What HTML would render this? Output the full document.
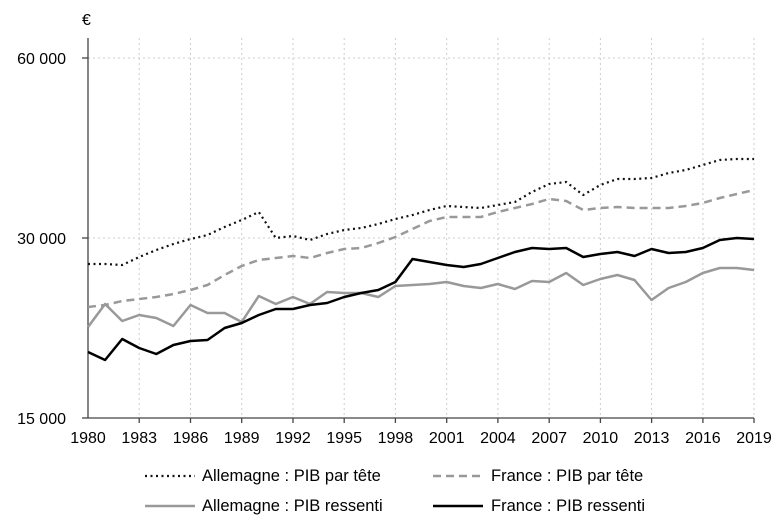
<!DOCTYPE html>
<html><head><meta charset="utf-8"><style>body{margin:0;background:#fff}svg{display:block}text{font-family:"Liberation Sans",Arial,sans-serif;fill:#000}</style></head><body>
<svg width="780" height="521" viewBox="0 0 780 521" xmlns="http://www.w3.org/2000/svg">
<g stroke="#ccc" stroke-width="1" stroke-dasharray="2,3">
<line x1="88" y1="58" x2="754" y2="58"/><line x1="88" y1="238" x2="754" y2="238"/>
<line x1="139.2" y1="38" x2="139.2" y2="418"/><line x1="190.5" y1="38" x2="190.5" y2="418"/><line x1="241.7" y1="38" x2="241.7" y2="418"/><line x1="293" y1="38" x2="293" y2="418"/><line x1="344.2" y1="38" x2="344.2" y2="418"/><line x1="395.4" y1="38" x2="395.4" y2="418"/><line x1="446.7" y1="38" x2="446.7" y2="418"/><line x1="497.9" y1="38" x2="497.9" y2="418"/><line x1="549.2" y1="38" x2="549.2" y2="418"/><line x1="600.4" y1="38" x2="600.4" y2="418"/><line x1="651.6" y1="38" x2="651.6" y2="418"/><line x1="702.9" y1="38" x2="702.9" y2="418"/><line x1="754" y1="38" x2="754" y2="418"/>
</g>
<g stroke="#444" stroke-width="1.3">
<line x1="88" y1="38" x2="88" y2="418"/><line x1="88" y1="418" x2="754" y2="418"/>
<line x1="82" y1="58" x2="88" y2="58"/><line x1="82" y1="238" x2="88" y2="238"/><line x1="82" y1="418" x2="88" y2="418"/>
<line x1="139.2" y1="418" x2="139.2" y2="423"/><line x1="190.5" y1="418" x2="190.5" y2="423"/><line x1="241.7" y1="418" x2="241.7" y2="423"/><line x1="293" y1="418" x2="293" y2="423"/><line x1="344.2" y1="418" x2="344.2" y2="423"/><line x1="395.4" y1="418" x2="395.4" y2="423"/><line x1="446.7" y1="418" x2="446.7" y2="423"/><line x1="497.9" y1="418" x2="497.9" y2="423"/><line x1="549.2" y1="418" x2="549.2" y2="423"/><line x1="600.4" y1="418" x2="600.4" y2="423"/><line x1="651.6" y1="418" x2="651.6" y2="423"/><line x1="702.9" y1="418" x2="702.9" y2="423"/><line x1="754" y1="418" x2="754" y2="423"/>
</g>
<g font-size="16" text-anchor="end">
<text x="66" y="64">60 000</text><text x="66" y="244">30 000</text><text x="66" y="424">15 000</text>
</g>
<text x="82" y="25" font-size="16">€</text>
<g font-size="16" text-anchor="middle">
<text x="88" y="443">1980</text><text x="139.2" y="443">1983</text><text x="190.5" y="443">1986</text><text x="241.7" y="443">1989</text><text x="293" y="443">1992</text><text x="344.2" y="443">1995</text><text x="395.4" y="443">1998</text><text x="446.7" y="443">2001</text><text x="497.9" y="443">2004</text><text x="549.2" y="443">2007</text><text x="600.4" y="443">2010</text><text x="651.6" y="443">2013</text><text x="702.9" y="443">2016</text><text x="754" y="443">2019</text>
</g>
<g fill="none" stroke-linejoin="round">
<polyline id="de1" stroke="#111" stroke-width="2.2" stroke-dasharray="2,3.5" points=""/>
<polyline id="fr1" stroke="#999" stroke-width="2.5" stroke-dasharray="8,5" points=""/>
<polyline id="de2" stroke="#999" stroke-width="2.5" points=""/>
<polyline id="fr2" stroke="#000" stroke-width="2.5" points=""/>
</g>
<g fill="none">
<line x1="145" y1="476" x2="195" y2="476" stroke="#111" stroke-width="2.2" stroke-dasharray="2,3.5"/>
<line x1="433" y1="476" x2="483" y2="476" stroke="#999" stroke-width="2.5" stroke-dasharray="8,5"/>
<line x1="145" y1="506" x2="195" y2="506" stroke="#999" stroke-width="2.5"/>
<line x1="433" y1="506" x2="483" y2="506" stroke="#000" stroke-width="2.5"/>
</g>
<g font-size="16.5">
<text x="202" y="481">Allemagne : PIB par tête</text><text x="491" y="481">France : PIB par tête</text>
<text x="202" y="511">Allemagne : PIB ressenti</text><text x="491" y="511">France : PIB ressenti</text>
</g>
</svg>
<script>
var d={de1:[264,264,265,257,250,244,239,235,227,220,212,238,236,240,234,230,228,224,219,215,210,206,207,208,205,202,192,184,182,195,185,179,179,178,173,170,165,160,159,159],
fr1:[307,305,301,299,297,294,290,285,275,266,260,258,256,258,253,249,248,243,237,229,221,217,217,217,212,208,204,199,201,210,208,207,208,208,208,206,203,198,194,190],
de2:[327,304,321,315,318,326,305,313,313,322,296,304,297,304,292,293,293,297,286,285,284,282,286,288,284,289,281,282,273,285,279,275,280,300,288,282,273,268,268,270],
fr2:[352,360,339,348,354,345,341,340,328,323,315,309,309,305,303,297,293,290,282,259,262,265,267,264,258,252,248,249,248,257,254,252,256,249,253,252,248,240,238,239]};
for(var k in d){document.getElementById(k).setAttribute('points',d[k].map(function(y,i){return (88+i*17.077).toFixed(1)+','+y}).join(' '));}
</script>
</body></html>
